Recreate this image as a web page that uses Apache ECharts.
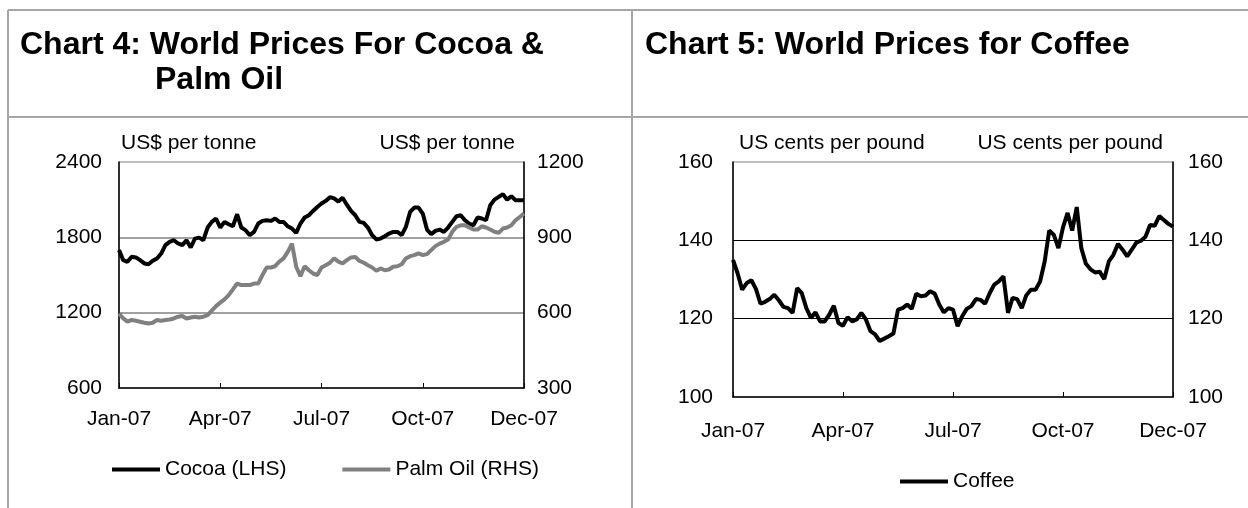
<!DOCTYPE html>
<html>
<head>
<meta charset="utf-8">
<script src="https://cdn.jsdelivr.net/npm/echarts@6/dist/echarts.min.js"></script>
<style>
html,body{margin:0;padding:0;background:#fff;}
#c{width:1248px;height:508px;}
</style>
</head>
<body>
<div id="c"></div>
<script>
// ---- data ----
const tickLabels = ['Jan-07', 'Apr-07', 'Jul-07', 'Oct-07', 'Dec-07'];
const title4a = 'Chart 4: World Prices For Cocoa &';
const title4b = 'Palm Oil';
const title5 = 'Chart 5: World Prices for Coffee';
const unitCocoa = 'US$ per tonne';
const unitPalm = 'US$ per tonne';
const unitCoffee = 'US cents per pound';
const cocoaName = 'Cocoa (LHS)';
const palmName = 'Palm Oil (RHS)';
const coffeeName = 'Coffee';

const cocoa = [1698,1618,1605,1645,1640,1618,1592,1586,1613,1631,
  1671,1738,1764,1777,1751,1738,1777,1719,1790,1798,
  1777,1878,1923,1950,1878,1923,1904,1888,1984,1878,
  1857,1817,1843,1910,1931,1936,1931,1950,1923,1923,
  1888,1870,1836,1910,1958,1976,2010,2042,2069,2090,
  2120,2110,2085,2115,2060,2010,1976,1923,1915,1878,
  1817,1783,1790,1809,1830,1843,1843,1817,1883,2002,
  2037,2037,1989,1862,1825,1851,1862,1843,1878,1923,
  1968,1976,1936,1910,1896,1958,1950,1936,2055,2100,
  2122,2143,2100,2127,2095,2095,2095];

const palm = [597,577,564,571,568,564,560,557,560,571,
  568,571,573,577,584,587,577,581,584,581,
  584,590,608,626,640,653,670,693,716,710,
  710,710,716,716,750,780,780,785,803,816,
  842,875,783,745,785,769,756,750,780,789,
  799,816,803,796,809,820,822,806,799,789,
  780,767,776,769,772,783,785,793,816,825,
  829,836,829,833,849,865,875,882,891,922,
  942,948,948,939,931,931,944,939,931,922,
  918,935,939,948,968,981,995];

const coffee = [135.0,131.6,127.4,129.1,129.8,127.6,123.8,124.3,125.0,126.1,
  124.7,123.0,122.7,121.5,127.8,126.5,122.7,120.2,121.6,119.3,
  119.3,121.0,123.3,118.9,118.2,120.4,119.3,119.8,121.5,119.8,
  116.8,116.0,114.3,114.9,115.5,116.2,122.3,122.7,123.6,122.5,
  126.4,125.7,125.9,127.0,126.4,123.6,121.6,122.7,122.3,118.1,
  120.6,122.5,123.2,125.0,124.8,123.8,126.5,128.7,129.5,130.8,
  121.5,125.3,125.0,122.7,126.0,127.4,127.4,129.5,134.6,142.5,
  141.4,138.0,143.3,147.0,142.5,148.5,138.0,134.0,132.6,131.8,
  132.0,130.1,134.6,136.3,139.1,137.6,135.9,137.6,139.4,139.9,
  140.9,143.9,143.7,146.2,145.2,144.2,143.5];

// ---- chart ----
const FONT = '"Liberation Sans", Arial, Helvetica, sans-serif';
const step = (cocoa.length - 1) / (tickLabels.length - 1);
const cats = cocoa.map((_, i) => String(i));

function xAxisCfg(gridIndex, margin) {
  return {
    type: 'category', gridIndex: gridIndex, data: cats, boundaryGap: false,
    axisLine: {show: true, onZero: false, lineStyle: {color: '#000', width: 1.5}},
    axisTick: {show: true, inside: true, length: 5, interval: step - 1, lineStyle: {color: '#000', width: 1}},
    axisLabel: {interval: step - 1, margin: margin, color: '#000', fontSize: 21, fontFamily: FONT,
      formatter: function (v, i) { return tickLabels[Math.round(i / step)]; }},
    splitLine: {show: false}
  };
}
function yAxisCfg(gridIndex, pos, min, max, interval, margin, split, splitColor, splitWidth) {
  return {
    type: 'value', gridIndex: gridIndex, position: pos, min: min, max: max, interval: interval,
    axisLine: {show: true, onZero: false, lineStyle: {color: '#000', width: 1.5}},
    axisTick: {show: false},
    axisLabel: {margin: margin, color: '#000', fontSize: 21, fontFamily: FONT,
      formatter: function (v) { return String(v); }},
    splitLine: {show: split, showMaxLine: false, showMinLine: false, lineStyle: {color: splitColor, width: splitWidth}}
  };
}
function txt(text, x, y, align, size, bold) {
  return {type: 'text', x: x, y: y, silent: true,
    style: {text: text, fill: '#000', textAlign: align, textVerticalAlign: 'middle',
      font: (bold ? 'bold ' : '') + size + 'px ' + FONT}};
}
function ln(x1, y1, x2, y2) {
  return {type: 'line', silent: true, shape: {x1: x1, y1: y1, x2: x2, y2: y2},
    style: {stroke: '#a6a6a6', lineWidth: 2}};
}

const chart = echarts.init(document.getElementById('c'), null, {renderer: 'canvas'});
chart.setOption({
  animation: false,
  backgroundColor: '#fff',
  grid: [
    {left: 119, top: 162, width: 405, height: 226, show: true, borderColor: '#808080', borderWidth: 1, backgroundColor: 'transparent'},
    {left: 733, top: 162, width: 440, height: 235, show: true, borderColor: '#808080', borderWidth: 1, backgroundColor: 'transparent'}
  ],
  xAxis: [xAxisCfg(0, 21), xAxisCfg(1, 24)],
  yAxis: [
    yAxisCfg(0, 'left', 600, 2400, 600, 17, true, '#808080', 1.5),
    yAxisCfg(0, 'right', 300, 1200, 300, 13, false, '#808080', 1),
    yAxisCfg(1, 'left', 100, 160, 20, 20, true, '#000', 1),
    yAxisCfg(1, 'right', 100, 160, 20, 15, false, '#000', 1)
  ],
  legend: [
    {data: [cocoaName, palmName], left: 107, top: 454, icon: 'rect', itemWidth: 48, itemHeight: 4, itemGap: 56,
      selectedMode: false, textStyle: {fontSize: 21, color: '#000', fontFamily: FONT}},
    {data: [coffeeName], left: 895, top: 466, icon: 'rect', itemWidth: 48, itemHeight: 4,
      selectedMode: false, textStyle: {fontSize: 21, color: '#000', fontFamily: FONT}}
  ],
  series: [
    {name: cocoaName, type: 'line', xAxisIndex: 0, yAxisIndex: 0, data: cocoa, symbol: 'none',
      lineStyle: {color: '#000', width: 4}, itemStyle: {color: '#000'}},
    {name: palmName, type: 'line', xAxisIndex: 0, yAxisIndex: 1, data: palm, symbol: 'none',
      lineStyle: {color: '#808080', width: 4}, itemStyle: {color: '#808080'}},
    {name: coffeeName, type: 'line', xAxisIndex: 1, yAxisIndex: 2, data: coffee, symbol: 'none',
      lineStyle: {color: '#000', width: 4}, itemStyle: {color: '#000'}}
  ],
  graphic: [
    ln(8, 10, 1248, 10), ln(8, 10, 8, 508), ln(632, 10, 632, 508), ln(8, 117, 1248, 117),
    txt(title4a, 20, 45, 'left', 32, true),
    txt(title4b, 155, 80, 'left', 32, true),
    txt(title5, 645, 45, 'left', 32, true),
    txt(unitCocoa, 121, 143, 'left', 21, false),
    txt(unitPalm, 515, 143, 'right', 21, false),
    txt(unitCoffee, 739, 143, 'left', 21, false),
    txt(unitCoffee, 1163, 143, 'right', 21, false)
  ]
});
</script>
</body>
</html>
